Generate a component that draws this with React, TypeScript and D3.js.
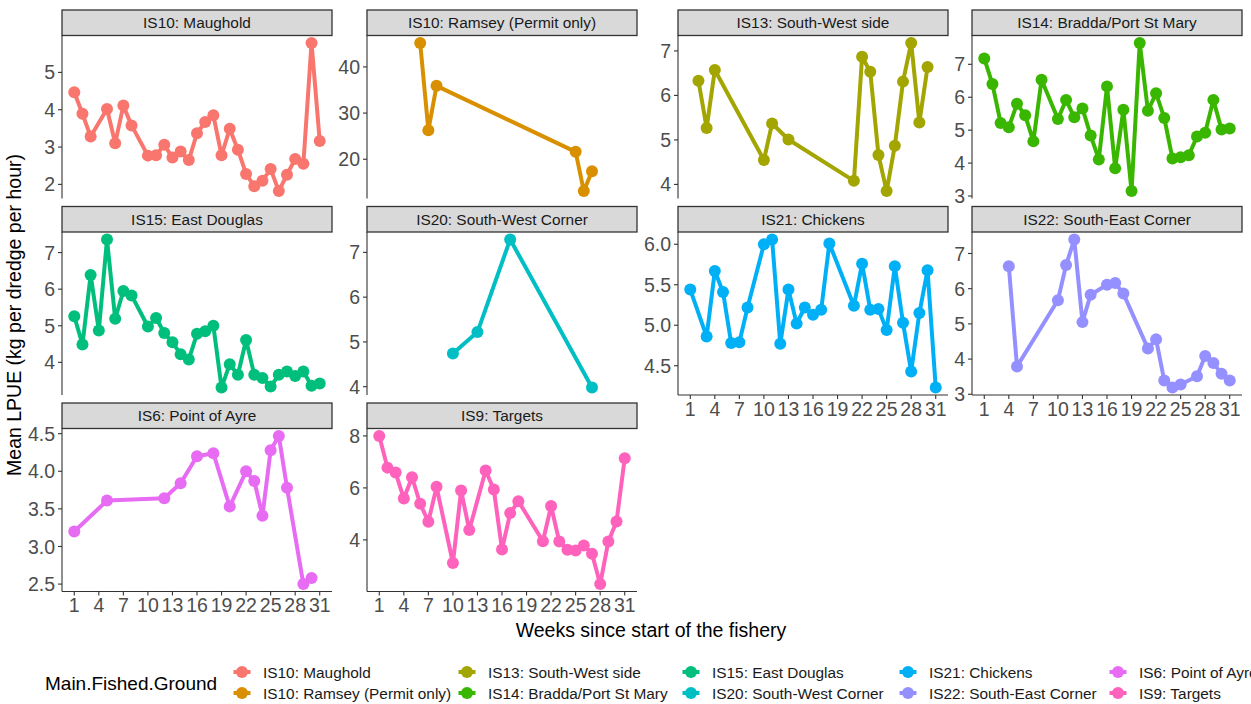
import React from "react";
import * as d3 from "d3";

const WIDTH = 1251;
const HEIGHT = 704;
const FONT = "'Liberation Sans', Arial, sans-serif";

// Fishing grounds, in facet order, with their ggplot hue colours
const grounds = [
  "IS10: Maughold",
  "IS10: Ramsey (Permit only)",
  "IS13: South-West side",
  "IS14: Bradda/Port St Mary",
  "IS15: East Douglas",
  "IS20: South-West Corner",
  "IS21: Chickens",
  "IS22: South-East Corner",
  "IS6: Point of Ayre",
  "IS9: Targets",
];
const groundColors = [
  "#F8766D", "#D89000", "#A3A500", "#39B600", "#00BF7D",
  "#00BFC4", "#00B0F6", "#9590FF", "#E76BF3", "#FF62BC",
];

// Weeks fished and mean LPUE (kg per dredge per hour) for each ground
const maugholdWeeks = [1, 2, 3, 5, 6, 7, 8, 10, 11, 12, 13, 14, 15, 16, 17, 18, 19, 20, 21, 22, 23, 24, 25, 26, 27, 28, 29, 30, 31];
const maugholdLpue = [4.47, 3.89, 3.28, 4.02, 3.1, 4.11, 3.58, 2.77, 2.78, 3.06, 2.72, 2.88, 2.65, 3.37, 3.67, 3.85, 2.78, 3.49, 2.93, 2.28, 1.95, 2.1, 2.41, 1.82, 2.26, 2.68, 2.55, 5.79, 3.16];

const ramseyWeeks = [6, 7, 8, 25, 26, 27];
const ramseyLpue = [45.2, 26.3, 35.9, 21.6, 13.1, 17.4];

const southWestSideWeeks = [2, 3, 4, 10, 11, 13, 21, 22, 23, 24, 25, 26, 27, 28, 29, 30];
const southWestSideLpue = [6.33, 5.27, 6.57, 4.55, 5.37, 5.01, 4.08, 6.87, 6.53, 4.66, 3.85, 4.87, 6.31, 7.18, 5.39, 6.64];

const braddaWeeks = [1, 2, 3, 4, 5, 6, 7, 8, 10, 11, 12, 13, 14, 15, 16, 17, 18, 19, 20, 21, 22, 23, 24, 25, 26, 27, 28, 29, 30, 31];
const braddaLpue = [7.18, 6.4, 5.22, 5.09, 5.8, 5.45, 4.66, 6.53, 5.34, 5.92, 5.39, 5.66, 4.84, 4.11, 6.33, 3.84, 5.62, 3.15, 7.65, 5.59, 6.12, 5.37, 4.14, 4.18, 4.24, 4.81, 4.92, 5.92, 5.02, 5.05];

const eastDouglasWeeks = [1, 2, 3, 4, 5, 6, 7, 8, 10, 11, 12, 13, 14, 15, 16, 17, 18, 19, 20, 21, 22, 23, 24, 25, 26, 27, 28, 29, 30, 31];
const eastDouglasLpue = [5.26, 4.49, 6.39, 4.87, 7.36, 5.19, 5.95, 5.83, 4.98, 5.21, 4.8, 4.55, 4.22, 4.08, 4.78, 4.85, 5.0, 3.31, 3.95, 3.66, 4.61, 3.66, 3.57, 3.34, 3.66, 3.75, 3.63, 3.75, 3.36, 3.42];

const southWestCornerWeeks = [10, 13, 17, 27];
const southWestCornerLpue = [4.74, 5.22, 7.29, 3.98];

const chickensWeeks = [1, 3, 4, 5, 6, 7, 8, 10, 11, 12, 13, 14, 15, 16, 17, 18, 21, 22, 23, 24, 25, 26, 27, 28, 29, 30, 31];
const chickensLpue = [5.44, 4.86, 5.67, 5.41, 4.78, 4.79, 5.22, 6.0, 6.06, 4.77, 5.44, 5.02, 5.22, 5.13, 5.19, 6.01, 5.24, 5.76, 5.19, 5.2, 4.94, 5.73, 5.03, 4.43, 5.15, 5.68, 4.23];

const southEastCornerWeeks = [4, 5, 10, 11, 12, 13, 14, 16, 17, 18, 21, 22, 23, 24, 25, 27, 28, 29, 30, 31];
const southEastCornerLpue = [6.64, 3.79, 5.67, 6.67, 7.4, 5.05, 5.83, 6.11, 6.16, 5.86, 4.3, 4.56, 3.39, 3.19, 3.28, 3.51, 4.09, 3.89, 3.58, 3.39];

const pointOfAyreWeeks = [1, 5, 12, 14, 16, 18, 20, 22, 23, 24, 25, 26, 27, 29, 30];
const pointOfAyreLpue = [3.2, 3.61, 3.64, 3.84, 4.2, 4.24, 3.53, 4.0, 3.87, 3.41, 4.28, 4.47, 3.78, 2.5, 2.58];

const targetsWeeks = [1, 2, 3, 4, 5, 6, 7, 8, 10, 11, 12, 14, 15, 16, 17, 18, 21, 22, 23, 24, 25, 26, 27, 28, 29, 30, 31];
const targetsLpue = [8.0, 6.78, 6.59, 5.59, 6.41, 5.39, 4.7, 6.04, 3.11, 5.9, 4.38, 6.67, 5.94, 3.63, 5.03, 5.49, 3.95, 5.3, 3.94, 3.62, 3.59, 3.78, 3.47, 2.3, 3.94, 4.71, 7.14];

// Axis breaks
const weekTicks = [1, 4, 7, 10, 13, 16, 19, 22, 25, 28, 31];
const weekDomain = [1, 31];
const lpueTicks = [
  [2, 3, 4, 5],
  [20, 30, 40],
  [4, 5, 6, 7],
  [3, 4, 5, 6, 7],
  [4, 5, 6, 7],
  [4, 5, 6, 7],
  [4.5, 5.0, 5.5, 6.0],
  [3, 4, 5, 6, 7],
  [2.5, 3.0, 3.5, 4.0, 4.5],
  [4, 6, 8],
];
const lpueTickDecimals = [0, 0, 0, 0, 0, 0, 1, 0, 1, 0];

const seriesWeeks = [
  maugholdWeeks, ramseyWeeks, southWestSideWeeks, braddaWeeks, eastDouglasWeeks,
  southWestCornerWeeks, chickensWeeks, southEastCornerWeeks, pointOfAyreWeeks, targetsWeeks,
];
const seriesLpue = [
  maugholdLpue, ramseyLpue, southWestSideLpue, braddaLpue, eastDouglasLpue,
  southWestCornerLpue, chickensLpue, southEastCornerLpue, pointOfAyreLpue, targetsLpue,
];

// Facet grid geometry
const COL_LEFT = [62, 367, 678, 972];
const ROW_TOP = [10, 206.5, 403];
const PANEL_W = 270;
const STRIP_H = 25.5;
const PANEL_H = 163;
const TICK = 4;
const AXIS_COLOR = "#333333";
const TICK_TEXT = "#4D4D4D";
const TICK_FONT = 19.5;
const LABEL_FONT = 15.4;
const LINE_W = 4;
const POINT_R = 6;
// panels whose column has nothing below them carry the week axis
const withWeekAxis = new Set([6, 7, 8, 9]);

const expand = (lo: number, hi: number, m = 0.05) => {
  const r = hi - lo;
  return [lo - r * m, hi + r * m];
};

function Panel({ index }: { index: number }) {
  const row = Math.floor(index / 4);
  const col = index % 4;
  const left = COL_LEFT[col];
  const stripTop = ROW_TOP[row];
  const top = stripTop + STRIP_H;
  const bottom = top + PANEL_H;
  const right = left + PANEL_W;

  const weeks = seriesWeeks[index];
  const lpue = seriesLpue[index];
  const pts = weeks.map((w, i) => ({ w, v: lpue[i] }));
  const color = groundColors[index];

  const x = d3.scaleLinear().domain(expand(weekDomain[0], weekDomain[1])).range([left, right]);
  const ext = d3.extent(lpue) as [number, number];
  const y = d3.scaleLinear().domain(expand(ext[0], ext[1])).range([bottom, top]);

  const line = d3
    .line<{ w: number; v: number }>()
    .x((d) => x(d.w))
    .y((d) => y(d.v));

  const fmt = d3.format(`.${lpueTickDecimals[index]}f`);

  return (
    <g>
      {/* strip */}
      <rect
        x={left}
        y={stripTop}
        width={PANEL_W}
        height={STRIP_H}
        fill="#D9D9D9"
        stroke="#333333"
        strokeWidth={1.3}
      />
      <text
        x={(left + right) / 2}
        y={stripTop + STRIP_H / 2}
        dy="0.36em"
        textAnchor="middle"
        fontSize={LABEL_FONT}
        fill="#1A1A1A"
        fontFamily={FONT}
      >
        {grounds[index]}
      </text>

      {/* y axis */}
      <line x1={left} x2={left} y1={top} y2={bottom} stroke={AXIS_COLOR} strokeWidth={1.1} />
      {lpueTicks[index].map((t) => (
        <g key={t}>
          <line x1={left - TICK} x2={left} y1={y(t)} y2={y(t)} stroke={AXIS_COLOR} strokeWidth={1.1} />
          <text
            x={left - TICK - 3}
            y={y(t)}
            dy="0.36em"
            textAnchor="end"
            fontSize={TICK_FONT}
            fill={TICK_TEXT}
            fontFamily={FONT}
          >
            {fmt(t)}
          </text>
        </g>
      ))}

      {/* x axis */}
      {withWeekAxis.has(index) && (
        <g>
          <line x1={left} x2={right} y1={bottom} y2={bottom} stroke={AXIS_COLOR} strokeWidth={1.1} />
          {weekTicks.map((t) => (
            <g key={t}>
              <line x1={x(t)} x2={x(t)} y1={bottom} y2={bottom + TICK} stroke={AXIS_COLOR} strokeWidth={1.1} />
              <text
                x={x(t)}
                y={bottom + TICK + 2}
                dy="0.75em"
                textAnchor="middle"
                fontSize={TICK_FONT}
                fill={TICK_TEXT}
                fontFamily={FONT}
              >
                {t}
              </text>
            </g>
          ))}
        </g>
      )}

      {/* series */}
      <path d={line(pts) || ""} fill="none" stroke={color} strokeWidth={LINE_W} strokeLinejoin="round" />
      {pts.map((d) => (
        <circle key={d.w} cx={x(d.w)} cy={y(d.v)} r={POINT_R} fill={color} />
      ))}
    </g>
  );
}

// Legend layout: two rows, filled column by column
const LEGEND_KEY_X = [242, 467, 691, 908, 1118];
const LEGEND_ROW_Y = [672, 693];

function Legend() {
  return (
    <g fontFamily={FONT}>
      <text x={45} y={683} dy="0.36em" fontSize={19} fill="#000">
        Main.Fished.Ground
      </text>
      {grounds.map((g, i) => {
        const cx = LEGEND_KEY_X[Math.floor(i / 2)];
        const cy = LEGEND_ROW_Y[i % 2];
        return (
          <g key={g}>
            <line x1={cx - 8.5} x2={cx + 8.5} y1={cy} y2={cy} stroke={groundColors[i]} strokeWidth={LINE_W} />
            <circle cx={cx} cy={cy} r={POINT_R} fill={groundColors[i]} />
            <text x={cx + 21} y={cy} dy="0.36em" fontSize={LABEL_FONT} fill="#1A1A1A">
              {g}
            </text>
          </g>
        );
      })}
    </g>
  );
}

export default function App() {
  return (
    <svg
      width={WIDTH}
      height={HEIGHT}
      viewBox={`0 0 ${WIDTH} ${HEIGHT}`}
      style={{ position: "absolute", left: 0, top: 0, background: "#fff" }}
    >
      <rect width={WIDTH} height={HEIGHT} fill="#fff" />
      {grounds.map((g, i) => (
        <Panel key={g} index={i} />
      ))}
      <text
        transform="translate(21,315) rotate(-90)"
        textAnchor="middle"
        fontSize={19.5}
        fill="#000"
        fontFamily={FONT}
      >
        Mean LPUE (kg per dredge per hour)
      </text>
      <text x={651} y={637} textAnchor="middle" fontSize={19.5} fill="#000" fontFamily={FONT}>
        Weeks since start of the fishery
      </text>
      <Legend />
    </svg>
  );
}
